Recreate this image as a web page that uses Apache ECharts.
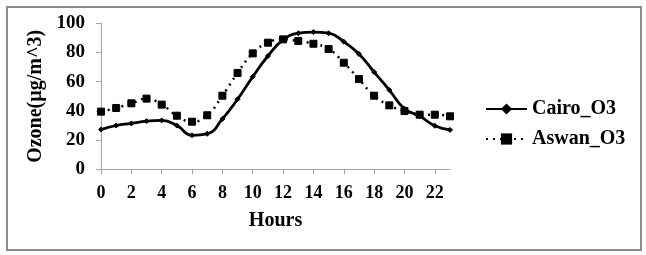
<!DOCTYPE html>
<html><head><meta charset="utf-8">
<script src="https://cdn.jsdelivr.net/npm/echarts@6/dist/echarts.min.js"></script>
<style>html,body{margin:0;padding:0;background:#fff}#c{width:646px;height:255px;position:relative}
#frame{position:absolute;left:6px;top:6px;width:632px;height:241px;border:2px solid #8c8c8c;pointer-events:none}</style>
</head><body><div id="c"></div><div id="frame"></div>
<script>
const hours = [0,1,2,3,4,5,6,7,8,9,10,11,12,13,14,15,16,17,18,19,20,21,22,23];
const cairoO3 = [27.2,30,31.4,33,33.5,30,23.3,24.3,34.5,48,63.4,77.6,88.6,93.2,94,93.2,87.4,79,66.6,54.3,41.5,36.5,29.8,27];
const aswanO3 = [39.5,42,45.2,48.4,44.3,36.7,32.6,37,50.4,66,79.4,86.7,89,87.9,86,82.4,73,61.8,50.4,43.8,39.9,37.4,37.4,36.3];
const yTicks = {min:0, max:100, interval:20};
const font = '"Liberation Serif","Times New Roman",serif';
const chart = echarts.init(document.getElementById('c'), null, {renderer:'canvas'});
chart.setOption({
  animation:false,
  backgroundColor:'#fff',
  grid:{left:101, top:23.3, right:196, bottom:85.7, containLabel:false},
  legend:{
    orient:'vertical', left:485, top:99, itemWidth:41, itemHeight:14, itemGap:10, padding:0,
    textStyle:{fontFamily:font, fontWeight:'bold', fontSize:20, color:'#000'},
    data:['Cairo_O3','Aswan_O3']
  },
  xAxis:{
    type:'category', data:hours.map(String), boundaryGap:false,
    name:'Hours', nameLocation:'middle', nameGap:42,
    nameTextStyle:{fontFamily:font, fontWeight:'bold', fontSize:20, color:'#000'},
    axisLine:{lineStyle:{color:'#a6a6a6', width:1}},
    axisTick:{show:true, interval:1, length:5, lineStyle:{color:'#a6a6a6'}},
    axisLabel:{interval:1, margin:15, fontFamily:font, fontWeight:'bold', fontSize:18, color:'#000'},
    splitLine:{show:false}
  },
  yAxis:{
    type:'value', min:yTicks.min, max:yTicks.max, interval:yTicks.interval,
    name:'Ozone(µg/m^3)', nameLocation:'middle', nameGap:51, nameRotate:90,
    nameTextStyle:{fontFamily:font, fontWeight:'bold', fontSize:20, color:'#000'},
    axisLine:{show:true, lineStyle:{color:'#a6a6a6', width:1}},
    axisTick:{show:true, length:5, lineStyle:{color:'#a6a6a6'}},
    axisLabel:{margin:16, fontFamily:font, fontWeight:'bold', fontSize:19, color:'#000'},
    splitLine:{show:false}
  },
  series:[
    {name:'Cairo_O3', type:'line', data:cairoO3, smooth:0.5,
     symbol:'diamond', symbolSize:5,
     lineStyle:{color:'#000', width:2.8, type:'solid'},
     itemStyle:{color:'#000', borderColor:'#000'}},
    {name:'Aswan_O3', type:'line', data:aswanO3, smooth:0.5,
     symbol:'rect', symbolSize:7,
     lineStyle:{color:'#000', width:2.5, type:[2,5]},
     itemStyle:{color:'#000', borderColor:'#000'}}
  ]
});
</script></body></html>
